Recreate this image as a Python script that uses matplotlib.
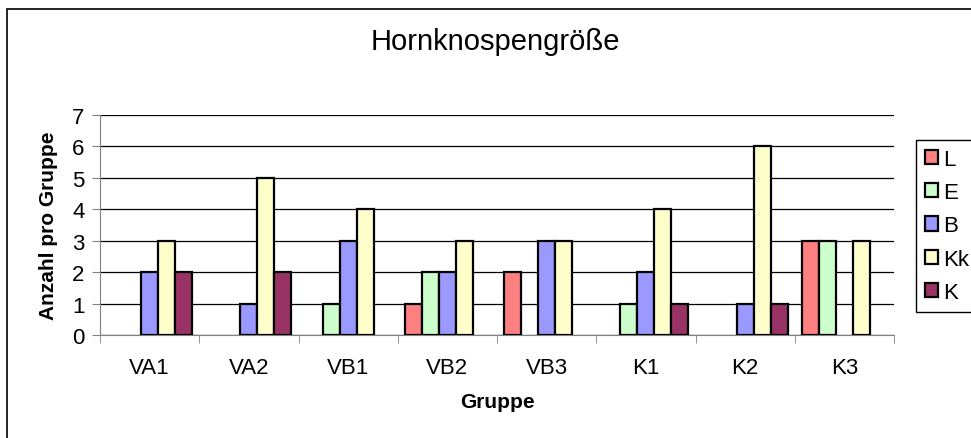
import matplotlib
matplotlib.use('Agg')
import matplotlib.pyplot as plt
from matplotlib.patches import Patch, Rectangle
import numpy as np

plt.rcParams['font.family'] = ['Liberation Sans', 'DejaVu Sans']

groups = ['VA1', 'VA2', 'VB1', 'VB2', 'VB3', 'K1', 'K2', 'K3']
series = ['L', 'E', 'B', 'Kk', 'K']
colors = ['#FF8080', '#CCFFCC', '#9999FF', '#FFFFCC', '#993366']

L = [0, 0, 0, 1, 2, 0, 0, 3]
E = [0, 0, 1, 2, 0, 1, 0, 3]
B = [2, 1, 3, 2, 3, 2, 1, 0]
Kk = [3, 5, 4, 3, 3, 4, 6, 3]
K = [2, 2, 0, 0, 0, 1, 1, 0]
values = [L, E, B, Kk, K]


def main():
    fig = plt.figure(figsize=(9.71, 4.39), dpi=100)
    ax = fig.add_axes([100 / 971, 1 - 336 / 439, 794 / 971, 220 / 439])

    x = np.arange(len(groups))
    w = 0.171
    for i, (name, vals, c) in enumerate(zip(series, values, colors)):
        vals = np.array(vals)
        keep = vals > 0
        ax.bar(x[keep] + (i - 2) * w, vals[keep], width=w, color=c,
               edgecolor='black', linewidth=1.6, zorder=3)

    ax.set_xlim(-0.5, len(groups) - 0.5)
    ax.set_ylim(0, 7)
    ax.set_yticks(range(8))
    ax.yaxis.grid(True, color='black', linewidth=0.9)
    ax.set_axisbelow(True)
    for s in ['top', 'right']:
        ax.spines[s].set_visible(False)
    ax.spines['left'].set_color('#808080')
    ax.spines['bottom'].set_color('#808080')

    ax.set_xticks(x)
    ax.set_xticklabels(groups, fontsize=16)
    ax.tick_params(axis='x', length=0, pad=16)
    ax.set_xticks(np.arange(len(groups) + 1) - 0.5, minor=True)
    ax.tick_params(axis='x', which='minor', length=6, direction='out',
                   color='#808080')
    ax.tick_params(axis='y', labelsize=16, length=6, color='#808080', pad=5)

    ax.set_xlabel('Gruppe', fontsize=15, fontweight='bold', labelpad=10)
    ax.set_ylabel('Anzahl pro Gruppe', fontsize=15, fontweight='bold',
                  labelpad=10)

    fig.text(495 / 971, 1 - 42 / 439, 'Hornknospengröße', fontsize=21,
             ha='center', va='center')

    handles = [Patch(facecolor=c, edgecolor='black', linewidth=1.6)
               for c in colors]
    leg = fig.legend(handles, series, loc='upper left',
                     bbox_to_anchor=(916 / 971, 1 - 141 / 439),
                     bbox_transform=fig.transFigure, fontsize=16,
                     handlelength=0.6, handleheight=0.6,
                     handletextpad=0.2, labelspacing=0.55,
                     borderpad=0.4, borderaxespad=0, fancybox=False,
                     edgecolor='black', framealpha=1)
    leg.get_frame().set_linewidth(1)

    fig.patches.append(Rectangle((7 / 971, -0.1), 1.2, 1 - 10 / 439 + 0.1,
                                 transform=fig.transFigure, fill=False,
                                 edgecolor='black', linewidth=1.2))

    fig.savefig('out.png', dpi=100)


if __name__ == '__main__':
    main()
